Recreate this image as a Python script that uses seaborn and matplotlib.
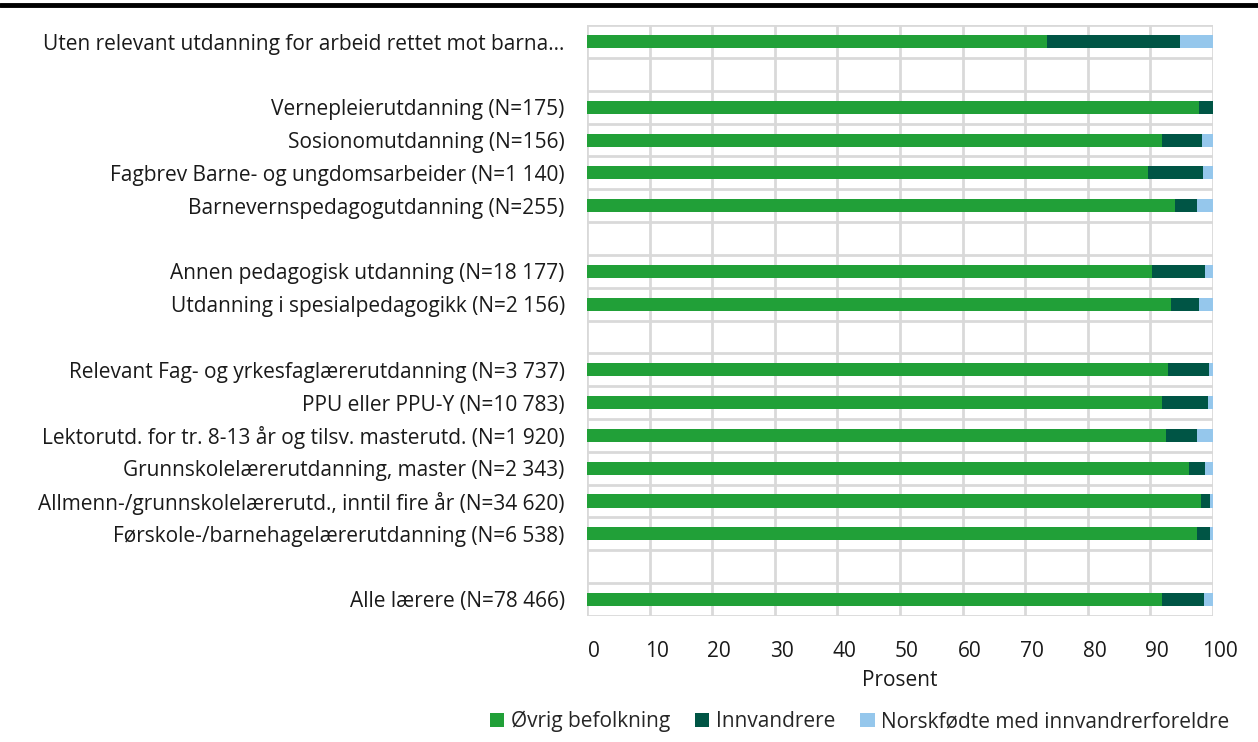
import pandas as pd
import numpy as np
import matplotlib
matplotlib.use('Agg')
import matplotlib.pyplot as plt
import matplotlib.transforms as mtransforms
import seaborn as sns
from matplotlib.lines import Line2D
from matplotlib.patches import Patch

categories = [
    'Uten relevant utdanning for arbeid rettet mot barna…',
    ' ',
    'Vernepleierutdanning (N=175)',
    'Sosionomutdanning (N=156)',
    'Fagbrev Barne- og ungdomsarbeider (N=1 140)',
    'Barnevernspedagogutdanning (N=255)',
    '  ',
    'Annen pedagogisk utdanning (N=18 177)',
    'Utdanning i spesialpedagogikk (N=2 156)',
    '   ',
    'Relevant Fag- og yrkesfaglærerutdanning (N=3 737)',
    'PPU eller PPU-Y (N=10 783)',
    'Lektorutd. for tr. 8-13 år og tilsv. masterutd. (N=1 920)',
    'Grunnskolelærerutdanning, master (N=2 343)',
    'Allmenn-/grunnskolelærerutd., inntil fire år (N=34 620)',
    'Førskole-/barnehagelærerutdanning (N=6 538)',
    '    ',
    'Alle lærere (N=78 466)',
]
ovrig = [73.5, np.nan, 97.8, 91.8, 89.7, 93.9, np.nan, 90.2, 93.3, np.nan,
         92.8, 91.8, 92.5, 96.1, 98.1, 97.5, np.nan, 91.8]
innvandrere = [21.2, np.nan, 2.2, 6.4, 8.7, 3.5, np.nan, 8.5, 4.5, np.nan,
               6.6, 7.4, 4.9, 2.6, 1.4, 2.0, np.nan, 6.8]
norskfodte = [5.3, np.nan, 0.0, 1.8, 1.6, 2.6, np.nan, 1.3, 2.2, np.nan,
              0.6, 0.8, 2.6, 1.3, 0.5, 0.5, np.nan, 1.4]

series = ['Øvrig befolkning', 'Innvandrere', 'Norskfødte med innvandrerforeldre']
colors = ['#21a038', '#005545', '#95c7ec']

df = pd.DataFrame({'kat': categories, 'a': ovrig, 'b': innvandrere, 'c': norskfodte})
df['ab'] = df['a'] + df['b']
df['abc'] = df['ab'] + df['c']

sns.set_style('white')
plt.rcParams['font.family'] = ['Open Sans', 'DejaVu Sans']

fig = plt.figure(figsize=(12.58, 7.42), dpi=100)
ax = fig.add_axes([0.4666, 0.170, 0.4976, 0.796])

# stacked: draw totals first, then overlay
for col, c in zip(['abc', 'ab', 'a'], colors[::-1]):
    sns.barplot(data=df, x=col, y='kat', order=categories, color=c,
                width=0.4, ax=ax, saturation=1, orient='h', linewidth=0)

ax.set_xlim(0, 100)
ax.set_ylim(len(categories) - 0.5, -0.5)
ax.set_xticks(range(0, 101, 10))
ax.set_yticks(range(len(categories)))
ax.set_yticklabels([c.strip() for c in categories])
ax.set_yticks(np.arange(-0.5, len(categories), 1), minor=True)
ax.tick_params(axis='both', which='both', length=0, labelsize=15, colors='#1a1a1a')
ax.tick_params(axis='x', pad=18)
ax.tick_params(axis='y', pad=16)
shift = mtransforms.ScaledTranslation(7 / 100, 0, fig.dpi_scale_trans)
for lab in ax.get_xticklabels():
    lab.set_transform(lab.get_transform() + shift)
ax.grid(axis='x', which='major', color='#d9d9d9', linewidth=2)
ax.grid(axis='y', which='minor', color='#d9d9d9', linewidth=2)
ax.set_axisbelow(True)
for s in ax.spines.values():
    s.set_visible(False)
ax.set_xlabel('Prosent', fontsize=15, color='#1a1a1a', labelpad=6)
ax.set_ylabel('')

handles = [Patch(facecolor=c, edgecolor='none') for c in colors]
fig.legend(handles, series, loc='lower right', bbox_to_anchor=(0.992, -0.012),
           ncol=3, frameon=False, fontsize=15, handlelength=0.7, handleheight=0.7,
           handletextpad=0.3, columnspacing=1.2)

fig.add_artist(Line2D([0, 1], [0.993, 0.993], color='black', linewidth=3.5,
                      transform=fig.transFigure))

fig.savefig('out.png', dpi=100)
